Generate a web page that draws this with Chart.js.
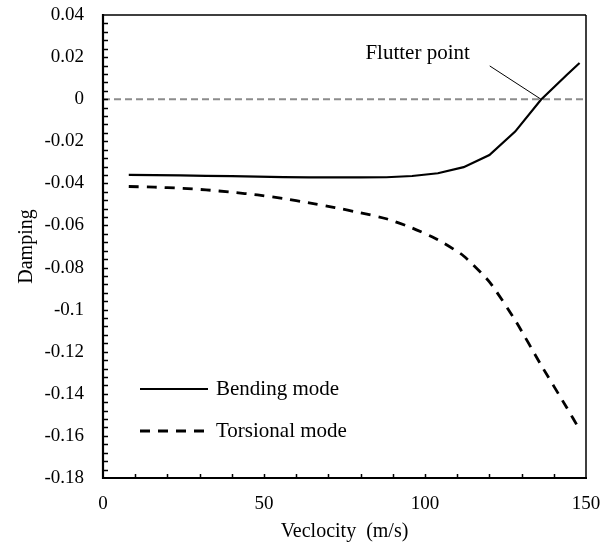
<!DOCTYPE html>
<html>
<head>
<meta charset="utf-8">
<script src="https://cdn.jsdelivr.net/npm/chart.js@4.4.1/dist/chart.umd.min.js"></script>
<style>
  html, body { margin: 0; padding: 0; background: #ffffff; }
  #wrap { width: 613px; height: 548px; }
</style>
</head>
<body>
<div id="wrap"><canvas id="c" width="613" height="548"></canvas></div>
<script>
// ---- data ----
const velocity = [8, 16, 24, 32, 40, 48, 56, 64, 72, 80, 88, 96, 104, 112, 120, 128, 136, 144, 148];
const bendingDamping = [-0.0360, -0.0361, -0.0362, -0.0364, -0.0366, -0.0368, -0.0370, -0.0372, -0.0372, -0.0372, -0.0371, -0.0365, -0.0352, -0.0323, -0.0265, -0.0154, -0.0003, 0.0115, 0.0172];
const torsionalDamping = [-0.0415, -0.0418, -0.0423, -0.0431, -0.0442, -0.0455, -0.0472, -0.0493, -0.0515, -0.0540, -0.0568, -0.0612, -0.0668, -0.0745, -0.0868, -0.1050, -0.1262, -0.1465, -0.1570];
const zeroLineX = [0, 150];
const zeroLineY = [0, 0];
const seriesNames = ['Bending mode', 'Torsional mode'];
const xTickValues = [0, 50, 100, 150];
const xTickLabels = ['0', '50', '100', '150'];
const yTickValues = [0.04, 0.02, 0, -0.02, -0.04, -0.06, -0.08, -0.1, -0.12, -0.14, -0.16, -0.18];
const yTickLabels = ['0.04', '0.02', '0', '-0.02', '-0.04', '-0.06', '-0.08', '-0.1', '-0.12', '-0.14', '-0.16', '-0.18'];
const flutterText = 'Flutter point';
const flutterPoint = { x: 136, y: 0 };
const xTitle = 'Veclocity  (m/s)';
const yTitle = 'Damping';

const SERIF = "'Liberation Serif', 'Times New Roman', 'DejaVu Serif', serif";

const toXY = (xs, ys) => xs.map((x, i) => ({ x: x, y: ys[i] }));

const framePlugin = {
  id: 'framePlugin',
  afterDraw(chart) {
    const ctx = chart.ctx;
    const a = chart.chartArea;
    const xs = chart.scales.x, ys = chart.scales.y;
    ctx.save();
    // minor/major ticks (inward)
    ctx.strokeStyle = '#000';
    ctx.lineWidth = 1.5;
    ctx.beginPath();
    for (let v = 10; v < 150; v += 10) {
      const px = Math.round(xs.getPixelForValue(v)) + 0.5;
      ctx.moveTo(px, a.bottom);
      ctx.lineTo(px, a.bottom - 4);
    }
    for (let i = 1; i < 55; i++) {
      const v = -0.18 + i * 0.004;
      const py = Math.round(ys.getPixelForValue(v)) + 0.5;
      ctx.moveTo(a.left, py);
      ctx.lineTo(a.left + 5, py);
    }
    ctx.stroke();
    // frame
    ctx.lineWidth = 1.5;
    ctx.beginPath();
    ctx.moveTo(a.left, a.top);
    ctx.lineTo(a.right, a.top);
    ctx.moveTo(a.right, a.top);
    ctx.lineTo(a.right, a.bottom);
    ctx.stroke();
    ctx.lineWidth = 2.2;
    ctx.beginPath();
    ctx.moveTo(a.left, a.top - 1);
    ctx.lineTo(a.left, a.bottom);
    ctx.lineTo(a.right + 1, a.bottom);
    ctx.stroke();

    // flutter point annotation
    const fx = xs.getPixelForValue(flutterPoint.x);
    const fy = ys.getPixelForValue(flutterPoint.y);
    const lx = xs.getPixelForValue(120.1);
    const ly = ys.getPixelForValue(0.0158);
    ctx.lineWidth = 1;
    ctx.beginPath();
    ctx.moveTo(lx, ly);
    ctx.lineTo(fx, fy);
    ctx.stroke();
    ctx.fillStyle = '#000';
    ctx.font = '21px ' + SERIF;
    ctx.textAlign = 'left';
    ctx.textBaseline = 'middle';
    ctx.fillText(flutterText, xs.getPixelForValue(81.5), ys.getPixelForValue(0.0215));

    // legend
    const items = chart.data.datasets.slice(0, 2);
    const lx0 = a.left + 37, lx1 = a.left + 105, tx = a.left + 113;
    const rows = [a.top + 374, a.top + 416];
    items.forEach((ds, i) => {
      ctx.strokeStyle = ds.borderColor;
      ctx.lineWidth = ds.borderWidth;
      ctx.setLineDash(ds.borderDash || []);
      ctx.beginPath();
      ctx.moveTo(lx0, rows[i]);
      ctx.lineTo(lx1, rows[i]);
      ctx.stroke();
      ctx.setLineDash([]);
      ctx.fillText(ds.label, tx, rows[i]);
    });
    ctx.restore();
  }
};

new Chart(document.getElementById('c'), {
  type: 'line',
  data: {
    datasets: [
      {
        label: seriesNames[0],
        data: toXY(velocity, bendingDamping),
        borderColor: '#000000',
        borderWidth: 2.2,
        pointRadius: 0,
        tension: 0,
        fill: false,
        order: 1
      },
      {
        label: seriesNames[1],
        data: toXY(velocity, torsionalDamping),
        borderColor: '#000000',
        borderWidth: 2.8,
        borderDash: [10, 8],
        pointRadius: 0,
        tension: 0.2,
        fill: false,
        order: 2
      },
      {
        label: 'zero',
        data: toXY(zeroLineX, zeroLineY),
        borderColor: '#8c8c8c',
        borderWidth: 2,
        borderDash: [7, 4],
        pointRadius: 0,
        tension: 0,
        fill: false,
        order: 3
      }
    ]
  },
  options: {
    responsive: false,
    animation: false,
    devicePixelRatio: 1,
    layout: { padding: { left: 0, right: 27, top: 15, bottom: 0 } },
    plugins: {
      legend: { display: false },
      tooltip: { enabled: false }
    },
    scales: {
      x: {
        type: 'linear',
        min: 0,
        max: 150,
        grid: { display: false, drawTicks: false },
        border: { display: false },
        afterBuildTicks: (s) => { s.ticks = xTickValues.map(v => ({ value: v })); },
        afterFit: (s) => { s.height = 70; s.paddingLeft = 0; s.paddingRight = 0; },
        ticks: {
          autoSkip: false,
          maxRotation: 0,
          padding: 15,
          color: '#000',
          font: { family: SERIF, size: 19 },
          callback: (v, i) => xTickLabels[i]
        },
        title: {
          display: true,
          text: xTitle,
          color: '#000',
          font: { family: SERIF, size: 20 },
          padding: { top: 0, bottom: 4 }
        }
      },
      y: {
        type: 'linear',
        min: -0.18,
        max: 0.04,
        grid: { display: false, drawTicks: false },
        border: { display: false },
        afterBuildTicks: (s) => { s.ticks = yTickValues.map(v => ({ value: v })); },
        afterFit: (s) => { s.width = 103; s.paddingTop = 0; s.paddingBottom = 0; },
        ticks: {
          autoSkip: false,
          padding: 19,
          color: '#000',
          font: { family: SERIF, size: 19 },
          callback: (v, i) => yTickLabels[i]
        },
        title: {
          display: true,
          text: yTitle,
          color: '#000',
          font: { family: SERIF, size: 20 },
          padding: { top: 15, bottom: 0 }
        }
      }
    }
  },
  plugins: [framePlugin]
});
</script>
</body>
</html>
